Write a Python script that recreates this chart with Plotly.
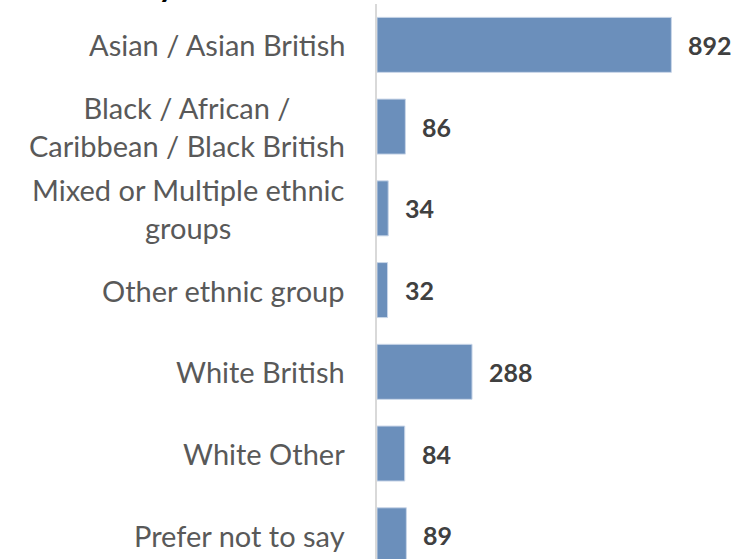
import plotly.graph_objects as go

categories = [
    "Asian / Asian British",
    "Black / African /<br>Caribbean / Black British",
    "Mixed or Multiple ethnic<br>groups",
    "Other ethnic group",
    "White British",
    "White Other",
    "Prefer not to say",
]
values = [892, 86, 34, 32, 288, 84, 89]
title_text = "Ethnicity"

BAR_COLOR = "#6B8FBB"
LABEL_COLOR = "#595959"
VALUE_COLOR = "#404040"
FONT = "Lato"

fig = go.Figure()
fig.add_trace(go.Bar(
    x=values,
    y=categories,
    orientation="h",
    marker=dict(color=BAR_COLOR, line=dict(color="#C9D6E8", width=1)),
    hoverinfo="skip",
))

annotations = []
for c, v in zip(categories, values):
    annotations.append(dict(
        x=0, xref="paper", y=c, yref="y", xanchor="right", yanchor="middle",
        xshift=-30, text=c, showarrow=False, align="center",
        font=dict(family=FONT, size=29, color=LABEL_COLOR),
    ))
    annotations.append(dict(
        x=v, xref="x", y=c, yref="y", xanchor="left", yanchor="middle",
        xshift=15, text=f"<b>{v}</b>", showarrow=False,
        font=dict(family=FONT, size=25, color=VALUE_COLOR),
    ))
annotations.append(dict(
    x=0, xref="paper", y=1, yref="paper", xanchor="right", yanchor="bottom",
    xshift=-200, yshift=-2, text=f"<b>{title_text}</b>", showarrow=False,
    font=dict(family=FONT, size=32, color="#000000"),
))

fig.update_layout(
    width=731, height=559,
    margin=dict(l=377, r=24, t=4, b=0),
    paper_bgcolor="white", plot_bgcolor="white",
    bargap=0.327,
    showlegend=False,
    annotations=annotations,
    font=dict(family=FONT),
)
fig.update_xaxes(range=[0, 1000], visible=False, showgrid=False, zeroline=False)
fig.update_yaxes(
    type="category", categoryorder="array", categoryarray=categories,
    range=[6.29, -0.5], showticklabels=False, ticks="",
    showline=True, linecolor="#D9D9D9", linewidth=2, showgrid=False, zeroline=False,
)

fig.write_html(
    "out.html",
    config={"displayModeBar": False},
    post_script="document.body.style.margin='0';document.body.style.overflow='hidden';",
)
